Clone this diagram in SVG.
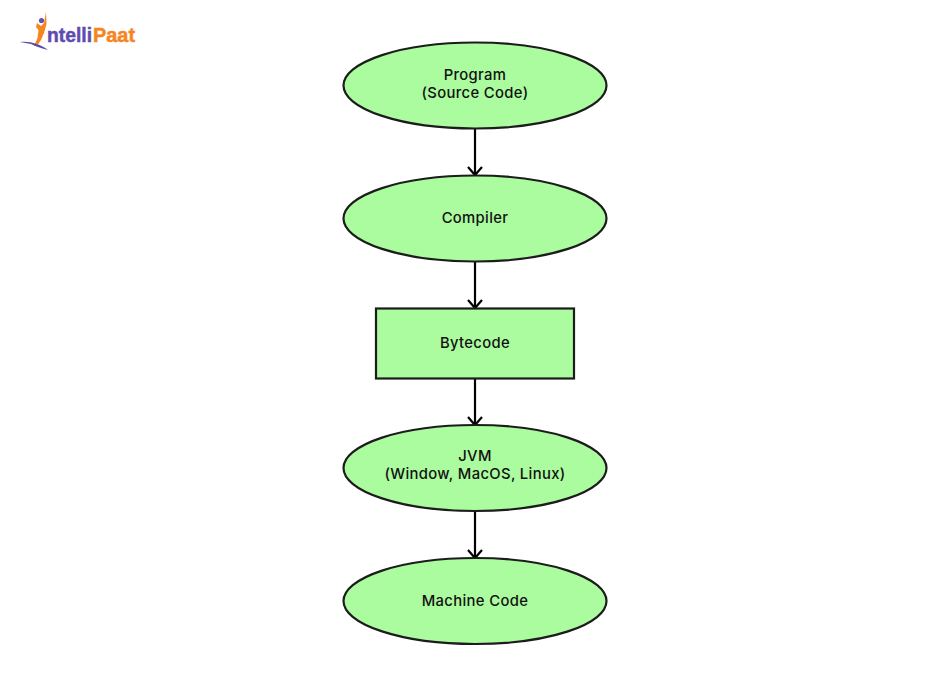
<svg xmlns="http://www.w3.org/2000/svg" width="950" height="687" viewBox="0 0 950 687">
<style>
.n{fill:#abfb9f;stroke:#1c1c1c;stroke-width:2.2}
.t{font-family:"Inter","Liberation Sans",sans-serif;font-size:14.8px;font-weight:500;letter-spacing:.35px;fill:#111;text-anchor:middle}
.c{fill:none;stroke:#000;stroke-width:2.2}
.lg{font-family:"Liberation Sans",sans-serif;font-weight:700;font-size:21px;stroke-width:.5px}
</style>
<defs><marker id="a" markerUnits="userSpaceOnUse" markerWidth="20" markerHeight="20" refX="15" refY="10" orient="auto"><path d="M7 3 L15 10 L7 17" fill="none" stroke="#000" stroke-width="2.2"/></marker></defs>
<rect width="950" height="687" fill="#fff"/>
<g id="logo">
<path d="M46 12 L46.500 24 L44 33 L41 40 L37 46 L34 46 L37.500 38 L38.500 30 L36 27 L37 23 L41 26 L44 23 Z" fill="#f5861f"/>
<circle cx="41.500" cy="20.500" r="2.600" fill="#6a4fb0"/>
<path d="M20 42 C30 41 40 44 48 50 C40 48 35 46 31 44 C27 43 24 43 20 42 Z" fill="#5a4aa8"/>
<text class="lg" x="47" y="42" fill="#5f4bb0" stroke="#5f4bb0" textLength="45" lengthAdjust="spacingAndGlyphs">ntelli</text>
<text class="lg" x="93" y="42" fill="#f5861f" stroke="#f5861f" textLength="42" lengthAdjust="spacingAndGlyphs">Paat</text>
</g>
<g id="connectors">
<path class="c" d="M475 129V175" marker-end="url(#a)"/>
<path class="c" d="M475 262V308" marker-end="url(#a)"/>
<path class="c" d="M475 378V425" marker-end="url(#a)"/>
<path class="c" d="M475 511V558" marker-end="url(#a)"/>
</g>
<g id="program"><ellipse class="n" cx="475" cy="85.500" rx="131.500" ry="43"/><text class="t" x="475" y="80">Program</text><text class="t" x="475" y="98">(Source Code)</text></g>
<g id="compiler"><ellipse class="n" cx="475" cy="218.500" rx="131.500" ry="43"/><text class="t" x="475" y="223">Compiler</text></g>
<g id="bytecode"><rect class="n" x="376" y="308.500" width="198" height="70"/><text class="t" x="475" y="348">Bytecode</text></g>
<g id="jvm"><ellipse class="n" cx="475" cy="468" rx="131.500" ry="43"/><text class="t" x="475" y="461">JVM</text><text class="t" x="475" y="479">(Window, MacOS, Linux)</text></g>
<g id="machine-code"><ellipse class="n" cx="475" cy="601" rx="131.500" ry="43"/><text class="t" x="475" y="606">Machine Code</text></g>
</svg>
